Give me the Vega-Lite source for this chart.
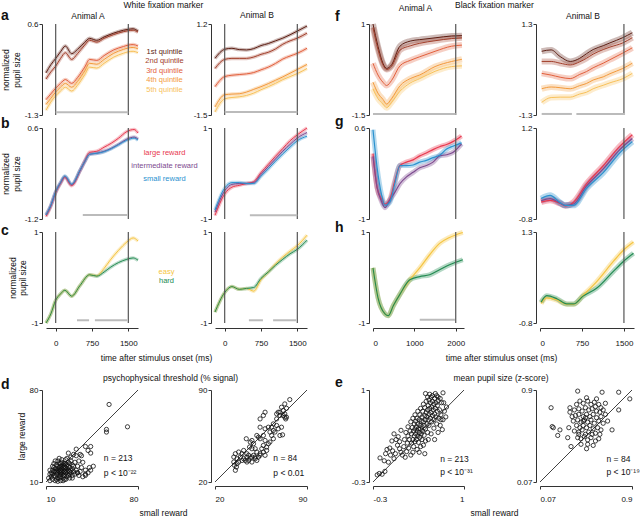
{
"$schema":"https://vega.github.io/schema/vega-lite/v6.json",
"padding":{"left":1,"top":0,"right":0,"bottom":0},
"background":"white",
"config":{"font":"Liberation Sans","view":{"stroke":null},
 "axis":{"grid":false,"domainColor":"#333","tickColor":"#333","labelColor":"#111","labelFontSize":8,"titleFontSize":8.5,"titleFontWeight":"normal","titleColor":"#111","tickSize":3,"labelPadding":1,"titlePadding":3,"offset":4,"domainWidth":1},
 "axisX":{"labelPadding":6,"titlePadding":5},
 "title":{"fontSize":8.5,"fontWeight":"normal","color":"#111","offset":2},
 "text":{"font":"Liberation Sans","color":"#111"}},
"datasets":{
"a1":[{"t":-200,"q1":-0.42,"q2":-0.55,"q3":-0.98,"q4":-1.08,"q5":-1.2},{"t":-100,"q1":-0.25,"q2":-0.4,"q3":-0.86,"q4":-0.95,"q5":-1.03},{"t":0,"q1":-0.12,"q2":-0.28,"q3":-0.74,"q4":-0.82,"q5":-0.9},{"t":100,"q1":0.02,"q2":-0.12,"q3":-0.64,"q4":-0.72,"q5":-0.8},{"t":200,"q1":0.14,"q2":0.0,"q3":-0.56,"q4":-0.64,"q5":-0.72},{"t":330,"q1":-0.02,"q2":-0.14,"q3":-0.64,"q4":-0.72,"q5":-0.8},{"t":450,"q1":0.07,"q2":-0.02,"q3":-0.52,"q4":-0.6,"q5":-0.68},{"t":600,"q1":0.22,"q2":0.16,"q3":-0.3,"q4":-0.38,"q5":-0.46},{"t":700,"q1":0.3,"q2":0.26,"q3":-0.14,"q4":-0.22,"q5":-0.3},{"t":850,"q1":0.26,"q2":0.22,"q3":-0.16,"q4":-0.24,"q5":-0.32},{"t":1000,"q1":0.33,"q2":0.3,"q3":-0.06,"q4":-0.14,"q5":-0.22},{"t":1200,"q1":0.41,"q2":0.38,"q3":0.06,"q4":-0.01,"q5":-0.09},{"t":1400,"q1":0.47,"q2":0.44,"q3":0.13,"q4":0.07,"q5":-0.01},{"t":1500,"q1":0.49,"q2":0.46,"q3":0.16,"q4":0.1,"q5":0.02},{"t":1600,"q1":0.5,"q2":0.47,"q3":0.17,"q4":0.11,"q5":0.03},{"t":1700,"q1":0.45,"q2":0.43,"q3":0.14,"q4":0.08,"q5":0.0}],
"a2":[{"t":-200,"q1":0.18,"q2":-0.12,"q3":-0.66,"q4":-1.26,"q5":-1.41},{"t":0,"q1":0.45,"q2":0.15,"q3":-0.36,"q4":-0.9,"q5":-1.02},{"t":150,"q1":0.48,"q2":0.18,"q3":-0.32,"q4":-0.88,"q5":-0.98},{"t":300,"q1":0.44,"q2":0.18,"q3":-0.3,"q4":-0.87,"q5":-0.96},{"t":450,"q1":0.43,"q2":0.18,"q3":-0.28,"q4":-0.82,"q5":-0.92},{"t":600,"q1":0.47,"q2":0.22,"q3":-0.24,"q4":-0.74,"q5":-0.85},{"t":750,"q1":0.56,"q2":0.3,"q3":-0.16,"q4":-0.66,"q5":-0.75},{"t":900,"q1":0.62,"q2":0.36,"q3":-0.08,"q4":-0.57,"q5":-0.66},{"t":1050,"q1":0.7,"q2":0.46,"q3":0.03,"q4":-0.47,"q5":-0.56},{"t":1200,"q1":0.78,"q2":0.6,"q3":0.16,"q4":-0.37,"q5":-0.45},{"t":1350,"q1":0.88,"q2":0.7,"q3":0.25,"q4":-0.26,"q5":-0.36},{"t":1500,"q1":0.99,"q2":0.78,"q3":0.33,"q4":-0.15,"q5":-0.27},{"t":1700,"q1":1.14,"q2":0.93,"q3":0.48,"q4":0.0,"q5":-0.12}],
"b1":[{"t":-200,"L":-1.15,"I":-1.12,"S":-1.12},{"t":-100,"L":-0.95,"I":-0.93,"S":-0.93},{"t":0,"L":-0.68,"I":-0.66,"S":-0.66},{"t":100,"L":-0.5,"I":-0.48,"S":-0.48},{"t":190,"L":-0.38,"I":-0.36,"S":-0.35},{"t":330,"L":-0.54,"I":-0.52,"S":-0.51},{"t":500,"L":-0.25,"I":-0.25,"S":-0.24},{"t":600,"L":-0.05,"I":-0.07,"S":-0.06},{"t":700,"L":0.12,"I":0.08,"S":0.08},{"t":850,"L":0.14,"I":0.1,"S":0.1},{"t":1000,"L":0.22,"I":0.14,"S":0.13},{"t":1150,"L":0.3,"I":0.2,"S":0.19},{"t":1300,"L":0.4,"I":0.28,"S":0.27},{"t":1470,"L":0.53,"I":0.38,"S":0.36},{"t":1620,"L":0.57,"I":0.42,"S":0.4},{"t":1700,"L":0.5,"I":0.38,"S":0.36}],
"b2":[{"t":-200,"L":-0.92,"I":-0.85,"S":-0.8},{"t":0,"L":-0.45,"I":-0.38,"S":-0.32},{"t":150,"L":-0.3,"I":-0.24,"S":-0.2},{"t":300,"L":-0.26,"I":-0.22,"S":-0.2},{"t":450,"L":-0.22,"I":-0.22,"S":-0.22},{"t":600,"L":-0.18,"I":-0.2,"S":-0.22},{"t":750,"L":0.02,"I":-0.02,"S":-0.06},{"t":900,"L":0.2,"I":0.15,"S":0.1},{"t":1050,"L":0.38,"I":0.32,"S":0.27},{"t":1200,"L":0.55,"I":0.49,"S":0.43},{"t":1350,"L":0.72,"I":0.64,"S":0.58},{"t":1500,"L":0.85,"I":0.78,"S":0.72},{"t":1700,"L":1.0,"I":0.9,"S":0.82}],
"c1":[{"t":-200,"E":-1.0,"H":-1.0},{"t":-100,"E":-0.8,"H":-0.8},{"t":0,"E":-0.5,"H":-0.5},{"t":100,"E":-0.36,"H":-0.36},{"t":190,"E":-0.28,"H":-0.28},{"t":330,"E":-0.41,"H":-0.41},{"t":500,"E":-0.18,"H":-0.18},{"t":700,"E":0.06,"H":0.06},{"t":850,"E":0.04,"H":0.03},{"t":1000,"E":0.2,"H":0.12},{"t":1125,"E":0.38,"H":0.22},{"t":1300,"E":0.6,"H":0.33},{"t":1470,"E":0.78,"H":0.4},{"t":1600,"E":0.87,"H":0.43},{"t":1700,"E":0.8,"H":0.38}],
"c2":[{"t":-200,"E":-0.76,"H":-0.76},{"t":0,"E":-0.33,"H":-0.33},{"t":150,"E":-0.2,"H":-0.2},{"t":300,"E":-0.26,"H":-0.26},{"t":450,"E":-0.24,"H":-0.24},{"t":600,"E":-0.3,"H":-0.22},{"t":750,"E":-0.05,"H":-0.02},{"t":900,"E":0.12,"H":0.12},{"t":1050,"E":0.3,"H":0.27},{"t":1200,"E":0.45,"H":0.4},{"t":1350,"E":0.58,"H":0.52},{"t":1500,"E":0.7,"H":0.62},{"t":1700,"E":0.93,"H":0.82}],
"f1":[{"t":0,"q1":1.0,"q2":0.9,"q3":-0.08,"q4":-0.6,"q5":-0.78},{"t":120,"q1":0.39,"q2":0.3,"q3":-0.4,"q4":-0.9,"q5":-1.05},{"t":240,"q1":-0.08,"q2":-0.12,"q3":-0.6,"q4":-1.07,"q5":-1.2},{"t":330,"q1":-0.22,"q2":-0.25,"q3":-0.69,"q4":-1.2,"q5":-1.3},{"t":450,"q1":-0.12,"q2":-0.16,"q3":-0.55,"q4":-1.05,"q5":-1.15},{"t":650,"q1":0.39,"q2":0.28,"q3":-0.15,"q4":-0.7,"q5":-0.85},{"t":900,"q1":0.53,"q2":0.4,"q3":0.0,"q4":-0.5,"q5":-0.62},{"t":1130,"q1":0.57,"q2":0.47,"q3":0.1,"q4":-0.4,"q5":-0.5},{"t":1500,"q1":0.62,"q2":0.54,"q3":0.25,"q4":-0.17,"q5":-0.3},{"t":1900,"q1":0.67,"q2":0.6,"q3":0.39,"q4":-0.03,"q5":-0.17},{"t":2150,"q1":0.68,"q2":0.62,"q3":0.42,"q4":0.03,"q5":-0.15}],
"f2":[{"t":30,"q1":0.52,"q2":0.23,"q3":-0.11,"q4":-0.55,"q5":-0.94},{"t":200,"q1":0.56,"q2":0.23,"q3":-0.16,"q4":-0.5,"q5":-0.8},{"t":360,"q1":0.37,"q2":0.18,"q3":-0.22,"q4":-0.52,"q5":-0.79},{"t":540,"q1":0.23,"q2":0.13,"q3":-0.26,"q4":-0.55,"q5":-0.79},{"t":710,"q1":0.32,"q2":0.22,"q3":-0.14,"q4":-0.46,"q5":-0.7},{"t":830,"q1":0.45,"q2":0.32,"q3":-0.06,"q4":-0.4,"q5":-0.65},{"t":950,"q1":0.57,"q2":0.44,"q3":0.05,"q4":-0.3,"q5":-0.55},{"t":1130,"q1":0.68,"q2":0.57,"q3":0.18,"q4":-0.21,"q5":-0.45},{"t":1250,"q1":0.76,"q2":0.64,"q3":0.28,"q4":-0.12,"q5":-0.38},{"t":1480,"q1":0.91,"q2":0.76,"q3":0.47,"q4":0.03,"q5":-0.26},{"t":1650,"q1":1.05,"q2":0.91,"q3":0.62,"q4":0.18,"q5":-0.11}],
"g1":[{"t":0,"L":0.15,"I":0.1,"S":0.57},{"t":100,"L":-0.45,"I":-0.45,"S":-0.1},{"t":200,"L":-0.64,"I":-0.68,"S":-0.55},{"t":290,"L":-0.74,"I":-0.8,"S":-0.76},{"t":410,"L":-0.65,"I":-0.66,"S":-0.7},{"t":520,"L":-0.35,"I":-0.54,"S":-0.4},{"t":650,"L":-0.06,"I":-0.38,"S":-0.06},{"t":810,"L":0.0,"I":-0.26,"S":-0.06},{"t":970,"L":0.04,"I":-0.18,"S":-0.05},{"t":1130,"L":0.11,"I":-0.1,"S":0.0},{"t":1290,"L":0.16,"I":-0.06,"S":0.03},{"t":1450,"L":0.22,"I":0.0,"S":0.08},{"t":1610,"L":0.27,"I":0.11,"S":0.12},{"t":1780,"L":0.31,"I":0.13,"S":0.23},{"t":1930,"L":0.36,"I":0.17,"S":0.28},{"t":2140,"L":0.46,"I":0.32,"S":0.34}],
"g2":[{"t":20,"L":-0.43,"I":-0.4,"S":-0.35},{"t":180,"L":-0.39,"I":-0.35,"S":-0.28},{"t":360,"L":-0.46,"I":-0.45,"S":-0.44},{"t":450,"L":-0.51,"I":-0.5,"S":-0.5},{"t":600,"L":-0.43,"I":-0.47,"S":-0.5},{"t":830,"L":-0.03,"I":-0.08,"S":-0.13},{"t":1130,"L":0.37,"I":0.3,"S":0.22},{"t":1430,"L":0.8,"I":0.73,"S":0.66},{"t":1650,"L":1.05,"I":0.97,"S":0.9}],
"h1":[{"t":0,"E":0.21,"H":0.21},{"t":120,"E":-0.44,"H":-0.44},{"t":290,"E":-0.8,"H":-0.8},{"t":370,"E":-0.84,"H":-0.84},{"t":490,"E":-0.62,"H":-0.62},{"t":650,"E":-0.37,"H":-0.37},{"t":890,"E":-0.05,"H":-0.05},{"t":1130,"E":0.21,"H":0.02},{"t":1370,"E":0.5,"H":0.06},{"t":1610,"E":0.75,"H":0.17},{"t":1850,"E":0.88,"H":0.28},{"t":2170,"E":0.99,"H":0.39}],
"h2":[{"t":20,"E":-0.35,"H":-0.32},{"t":120,"E":-0.22,"H":-0.17},{"t":300,"E":-0.27,"H":-0.24},{"t":480,"E":-0.37,"H":-0.36},{"t":600,"E":-0.37,"H":-0.36},{"t":770,"E":-0.16,"H":-0.18},{"t":1010,"E":0.15,"H":0.0},{"t":1310,"E":0.62,"H":0.39},{"t":1490,"E":0.88,"H":0.62},{"t":1670,"E":1.07,"H":0.81}],
"d1":[{"x":14,"y":17},{"x":15,"y":19},{"x":16,"y":15},{"x":16,"y":21},{"x":17,"y":18},{"x":17,"y":14},{"x":18,"y":20},{"x":18,"y":16},{"x":18,"y":23},{"x":19,"y":17},{"x":19,"y":19},{"x":19,"y":13},{"x":20,"y":21},{"x":20,"y":18},{"x":20,"y":15},{"x":20,"y":24},{"x":21,"y":19},{"x":21,"y":17},{"x":21,"y":22},{"x":21,"y":14},{"x":22,"y":20},{"x":22,"y":18},{"x":22,"y":16},{"x":22,"y":25},{"x":23,"y":19},{"x":23,"y":21},{"x":23,"y":17},{"x":23,"y":13},{"x":24,"y":20},{"x":24,"y":18},{"x":24,"y":22},{"x":24,"y":15},{"x":25,"y":19},{"x":25,"y":21},{"x":25,"y":17},{"x":25,"y":24},{"x":26,"y":20},{"x":26,"y":18},{"x":26,"y":16},{"x":27,"y":19},{"x":27,"y":22},{"x":27,"y":15},{"x":28,"y":18},{"x":28,"y":21},{"x":28,"y":16},{"x":29,"y":19},{"x":29,"y":17},{"x":30,"y":20},{"x":30,"y":15},{"x":31,"y":18},{"x":32,"y":16},{"x":33,"y":19},{"x":34,"y":17},{"x":35,"y":15},{"x":36,"y":18},{"x":38,"y":14},{"x":40,"y":16},{"x":42,"y":17},{"x":44,"y":19},{"x":12,"y":13},{"x":13,"y":16},{"x":13,"y":11},{"x":15,"y":12},{"x":17,"y":11},{"x":19,"y":10.5},{"x":21,"y":11},{"x":23,"y":11},{"x":25,"y":12},{"x":16,"y":24},{"x":19,"y":26},{"x":22,"y":27},{"x":25,"y":27},{"x":27,"y":25},{"x":30,"y":23},{"x":29,"y":26},{"x":18,"y":18},{"x":20,"y":20},{"x":22,"y":22},{"x":24,"y":24},{"x":21,"y":16},{"x":23,"y":15},{"x":26,"y":14},{"x":28,"y":13},{"x":30,"y":13},{"x":24,"y":12},{"x":15,"y":22},{"x":17,"y":26},{"x":20,"y":28},{"x":26,"y":28},{"x":29,"y":29},{"x":31,"y":31},{"x":33,"y":30},{"x":36,"y":31},{"x":37,"y":30},{"x":44,"y":37},{"x":42,"y":34},{"x":44,"y":32},{"x":40,"y":37},{"x":46,"y":22},{"x":43,"y":21},{"x":40,"y":19},{"x":37,"y":21},{"x":40,"y":15},{"x":34,"y":17},{"x":56,"y":50},{"x":56,"y":48},{"x":58,"y":69},{"x":72,"y":52},{"x":35,"y":26},{"x":38,"y":25},{"x":27,"y":32},{"x":33,"y":35},{"x":14,"y":14},{"x":16,"y":18},{"x":18,"y":12},{"x":20,"y":13},{"x":26,"y":23},{"x":28,"y":24},{"x":31,"y":22},{"x":32,"y":25},{"x":34,"y":22},{"x":15,"y":16},{"x":17,"y":20},{"x":19,"y":22},{"x":21,"y":24},{"x":23,"y":23},{"x":13,"y":19}],
"d2":[{"x":76.9,"y":82.7},{"x":73.1,"y":79.4},{"x":74.4,"y":76.1},{"x":70.6,"y":76.9},{"x":68.1,"y":73.1},{"x":69.4,"y":70.6},{"x":71.9,"y":70.6},{"x":73.1,"y":69.3},{"x":74.4,"y":69.3},{"x":73.8,"y":68.0},{"x":58.1,"y":73.1},{"x":56.8,"y":70.6},{"x":54.3,"y":68.0},{"x":66.9,"y":68.0},{"x":64.4,"y":64.2},{"x":70.6,"y":61.7},{"x":66.9,"y":63.0},{"x":63.1,"y":61.7},{"x":54.3,"y":61.7},{"x":58.1,"y":60.5},{"x":60.6,"y":61.7},{"x":51.8,"y":55.4},{"x":53.1,"y":54.1},{"x":56.8,"y":55.4},{"x":54.3,"y":52.9},{"x":58.1,"y":51.6},{"x":63.1,"y":55.4},{"x":64.4,"y":52.9},{"x":69.4,"y":55.4},{"x":71.4,"y":55.9},{"x":60.6,"y":49.1},{"x":59.3,"y":46.6},{"x":56.8,"y":47.8},{"x":43.8,"y":52.9},{"x":46.8,"y":50.4},{"x":48.1,"y":51.6},{"x":49.3,"y":49.1},{"x":46.3,"y":46.6},{"x":48.1,"y":45.3},{"x":50.6,"y":45.3},{"x":41.8,"y":44.0},{"x":40.6,"y":41.5},{"x":44.3,"y":41.5},{"x":45.6,"y":40.3},{"x":49.3,"y":40.3},{"x":51.8,"y":42.8},{"x":53.1,"y":39.0},{"x":54.3,"y":41.5},{"x":56.8,"y":42.8},{"x":58.1,"y":40.3},{"x":38.0,"y":42.8},{"x":39.3,"y":39.0},{"x":35.5,"y":41.5},{"x":34.3,"y":39.0},{"x":36.8,"y":37.7},{"x":41.8,"y":37.7},{"x":44.3,"y":39.0},{"x":46.8,"y":38.2},{"x":50.6,"y":37.7},{"x":34.3,"y":35.2},{"x":34.8,"y":32.7},{"x":36.3,"y":31.4},{"x":35.5,"y":28.9},{"x":36.8,"y":34.0},{"x":40.6,"y":36.4},{"x":43.1,"y":36.4},{"x":38.0,"y":35.2},{"x":44.3,"y":35.2},{"x":48.1,"y":39.0},{"x":54.3,"y":40.3},{"x":55.6,"y":45.3},{"x":59.3,"y":44.0},{"x":61.8,"y":50.4},{"x":65.6,"y":58.0},{"x":68.1,"y":60.5},{"x":64.4,"y":59.2},{"x":61.8,"y":58.0},{"x":66.9,"y":71.8},{"x":69.4,"y":73.1},{"x":73.1,"y":71.8},{"x":71.9,"y":74.4},{"x":50.6,"y":39.0},{"x":51.8,"y":36.4},{"x":48.1,"y":35.2},{"x":45.6,"y":36.4}],
"e1":[{"x":-0.21,"y":-0.18},{"x":-0.17,"y":-0.19},{"x":-0.13,"y":-0.15},{"x":-0.24,"y":-0.2},{"x":-0.2,"y":0.04},{"x":-0.14,"y":0.0},{"x":-0.08,"y":-0.02},{"x":-0.12,"y":0.1},{"x":-0.05,"y":0.08},{"x":-0.02,"y":0.14},{"x":-0.06,"y":0.18},{"x":0.0,"y":0.03},{"x":0.02,"y":0.1},{"x":-0.1,"y":0.16},{"x":0.05,"y":0.22},{"x":0.03,"y":0.3},{"x":-0.03,"y":0.28},{"x":0.08,"y":0.17},{"x":0.1,"y":0.12},{"x":0.12,"y":0.08},{"x":0.06,"y":0.34},{"x":0.0,"y":0.38},{"x":0.1,"y":0.43},{"x":0.08,"y":0.27},{"x":0.14,"y":0.2},{"x":0.16,"y":0.05},{"x":0.18,"y":0.13},{"x":0.15,"y":0.3},{"x":0.17,"y":0.4},{"x":0.19,"y":0.25},{"x":0.2,"y":0.35},{"x":0.2,"y":0.48},{"x":0.21,"y":0.18},{"x":0.22,"y":0.3},{"x":0.23,"y":0.42},{"x":0.24,"y":0.55},{"x":0.25,"y":0.25},{"x":0.25,"y":0.38},{"x":0.26,"y":0.47},{"x":0.27,"y":0.3},{"x":0.27,"y":0.6},{"x":0.28,"y":0.2},{"x":0.28,"y":0.42},{"x":0.29,"y":0.35},{"x":0.29,"y":0.52},{"x":0.3,"y":0.27},{"x":0.3,"y":0.45},{"x":0.3,"y":0.65},{"x":0.31,"y":0.38},{"x":0.31,"y":0.56},{"x":0.32,"y":0.3},{"x":0.32,"y":0.48},{"x":0.33,"y":0.42},{"x":0.33,"y":0.6},{"x":0.34,"y":0.35},{"x":0.34,"y":0.52},{"x":0.34,"y":0.7},{"x":0.35,"y":0.26},{"x":0.35,"y":0.45},{"x":0.36,"y":0.58},{"x":0.36,"y":0.4},{"x":0.37,"y":0.33},{"x":0.37,"y":0.5},{"x":0.37,"y":0.65},{"x":0.38,"y":0.45},{"x":0.38,"y":0.74},{"x":0.39,"y":0.38},{"x":0.39,"y":0.56},{"x":0.4,"y":0.62},{"x":0.4,"y":0.48},{"x":0.4,"y":0.3},{"x":0.41,"y":0.7},{"x":0.41,"y":0.42},{"x":0.42,"y":0.55},{"x":0.42,"y":0.8},{"x":0.43,"y":0.5},{"x":0.43,"y":0.36},{"x":0.44,"y":0.64},{"x":0.44,"y":0.75},{"x":0.45,"y":0.58},{"x":0.45,"y":0.45},{"x":0.46,"y":0.68},{"x":0.46,"y":0.84},{"x":0.47,"y":0.52},{"x":0.47,"y":0.62},{"x":0.48,"y":0.72},{"x":0.48,"y":0.4},{"x":0.49,"y":0.78},{"x":0.49,"y":0.58},{"x":0.5,"y":0.66},{"x":0.5,"y":0.86},{"x":0.5,"y":0.5},{"x":0.51,"y":0.74},{"x":0.52,"y":0.6},{"x":0.52,"y":0.82},{"x":0.53,"y":0.68},{"x":0.53,"y":0.9},{"x":0.54,"y":0.55},{"x":0.54,"y":0.76},{"x":0.55,"y":0.64},{"x":0.55,"y":0.84},{"x":0.56,"y":0.72},{"x":0.57,"y":0.58},{"x":0.57,"y":0.8},{"x":0.58,"y":0.66},{"x":0.58,"y":0.88},{"x":0.59,"y":0.74},{"x":0.6,"y":0.62},{"x":0.6,"y":0.82},{"x":0.61,"y":0.52},{"x":0.62,"y":0.7},{"x":0.62,"y":0.78},{"x":0.63,"y":0.9},{"x":0.64,"y":0.6},{"x":0.65,"y":0.72},{"x":0.66,"y":0.5},{"x":0.67,"y":0.65},{"x":0.68,"y":0.82},{"x":0.7,"y":0.58},{"x":0.72,"y":0.7},{"x":0.69,"y":0.44},{"x":0.63,"y":0.4},{"x":0.57,"y":0.46},{"x":0.58,"y":0.3},{"x":0.53,"y":0.38},{"x":0.49,"y":0.3},{"x":0.45,"y":0.28},{"x":0.42,"y":0.22},{"x":0.38,"y":0.2},{"x":0.33,"y":0.16},{"x":0.27,"y":0.12},{"x":0.24,"y":0.08},{"x":0.44,"y":0.1},{"x":0.36,"y":0.12},{"x":0.55,"y":0.92},{"x":0.61,"y":0.92},{"x":0.7,"y":0.96},{"x":0.63,"y":0.85},{"x":0.59,"y":0.95},{"x":0.45,"y":0.95},{"x":0.48,"y":0.9},{"x":0.51,"y":0.94},{"x":0.66,"y":0.88},{"x":0.71,"y":0.82},{"x":0.74,"y":0.62},{"x":0.75,"y":0.76},{"x":0.67,"y":0.58}],
"e2":[{"x":0.41,"y":0.89},{"x":0.63,"y":0.88},{"x":0.78,"y":0.88},{"x":0.88,"y":0.82},{"x":0.17,"y":0.74},{"x":0.34,"y":0.74},{"x":0.34,"y":0.7},{"x":0.18,"y":0.57},{"x":0.19,"y":0.56},{"x":0.25,"y":0.54},{"x":0.23,"y":0.49},{"x":0.33,"y":0.56},{"x":0.32,"y":0.47},{"x":0.35,"y":0.39},{"x":0.49,"y":0.37},{"x":0.72,"y":0.54},{"x":0.78,"y":0.72},{"x":0.66,"y":0.78},{"x":0.58,"y":0.82},{"x":0.49,"y":0.83},{"x":0.58,"y":0.71},{"x":0.4,"y":0.77},{"x":0.43,"y":0.8},{"x":0.46,"y":0.78},{"x":0.5,"y":0.8},{"x":0.53,"y":0.77},{"x":0.56,"y":0.79},{"x":0.6,"y":0.77},{"x":0.62,"y":0.74},{"x":0.38,"y":0.72},{"x":0.42,"y":0.73},{"x":0.45,"y":0.71},{"x":0.48,"y":0.74},{"x":0.51,"y":0.72},{"x":0.54,"y":0.73},{"x":0.57,"y":0.75},{"x":0.61,"y":0.7},{"x":0.64,"y":0.72},{"x":0.39,"y":0.67},{"x":0.42,"y":0.68},{"x":0.46,"y":0.66},{"x":0.49,"y":0.68},{"x":0.52,"y":0.66},{"x":0.55,"y":0.68},{"x":0.58,"y":0.65},{"x":0.62,"y":0.66},{"x":0.66,"y":0.68},{"x":0.37,"y":0.62},{"x":0.41,"y":0.63},{"x":0.44,"y":0.61},{"x":0.47,"y":0.63},{"x":0.5,"y":0.61},{"x":0.53,"y":0.63},{"x":0.56,"y":0.6},{"x":0.6,"y":0.62},{"x":0.64,"y":0.6},{"x":0.4,"y":0.58},{"x":0.43,"y":0.56},{"x":0.46,"y":0.58},{"x":0.49,"y":0.56},{"x":0.52,"y":0.58},{"x":0.55,"y":0.55},{"x":0.59,"y":0.56},{"x":0.62,"y":0.54},{"x":0.38,"y":0.53},{"x":0.42,"y":0.52},{"x":0.45,"y":0.54},{"x":0.48,"y":0.5},{"x":0.51,"y":0.52},{"x":0.54,"y":0.5},{"x":0.57,"y":0.51},{"x":0.61,"y":0.5},{"x":0.41,"y":0.47},{"x":0.44,"y":0.46},{"x":0.47,"y":0.48},{"x":0.5,"y":0.45},{"x":0.53,"y":0.47},{"x":0.57,"y":0.44},{"x":0.6,"y":0.46},{"x":0.44,"y":0.41},{"x":0.5,"y":0.41},{"x":0.55,"y":0.4},{"x":0.46,"y":0.62},{"x":0.48,"y":0.65},{"x":0.68,"y":0.62},{"x":0.36,"y":0.66},{"x":0.42,"y":0.5}]
},
"columns":8,"spacing":{"row":13,"column":0},"bounds":"flush",
"resolve":{"scale":{"color":"independent"}},
"concat":[
 {"width":45,"height":91,"data":{"values":[]},"mark":"point","title":{"text":"a","anchor":"start","frame":"group","fontSize":14,"fontWeight":"bold","offset":0,"dy":-1}},
 {"width":92,"height":91,"title":{"text":"Animal A","frame":"group","dx":-4,"offset":0},"data":{"name":"a1"},"transform":[{"fold":["q1","q2","q3","q4","q5"],"as":["g","v"]}],
  "layer":[
   {"mark":{"type":"line","strokeWidth":3.5,"opacity":0.3,"interpolate":"monotone"},"encoding":{"x":{"field":"t","type":"quantitative","scale":{"domain":[-200,1700],"nice":false,"zero":false},"axis":null},"y":{"field":"v","type":"quantitative","scale":{"domain":[-1.3,0.6],"nice":false,"zero":false},"axis":{"values":[-1.3,0.6],"title":["normalized","pupil size"],"labelExpr":"''+datum.value"}},"color":{"field":"g","type":"nominal","scale":{"domain":["q1","q2","q3","q4","q5"],"range":["#5e1f14","#a2402c","#e2603c","#f39a3c","#f8c15a"]},"legend":null}}},
   {"mark":{"type":"line","strokeWidth":1,"interpolate":"monotone"},"encoding":{"x":{"field":"t","type":"quantitative","axis":null},"y":{"field":"v","type":"quantitative"},"color":{"field":"g","type":"nominal","scale":{"domain":["q1","q2","q3","q4","q5"],"range":["#5e1f14","#a2402c","#e2603c","#f39a3c","#f8c15a"]},"legend":null}}},
   {"data":{"values":[{"t":0},{"t":1500}]},"mark":{"type":"rule","color":"#555","strokeWidth":1.2},"encoding":{"x":{"field":"t","type":"quantitative","axis":null}}},
   {"data":{"values":[{"s":0,"e":1500}]},"mark":{"type":"rule","color":"#bbb","strokeWidth":2},"encoding":{"x":{"field":"s","type":"quantitative","axis":null},"x2":{"field":"e"},"y":{"datum":-1.24,"type":"quantitative"}}}
  ]},
 {"width":77,"height":91,"title":{"text":"White fixation marker","frame":"group","dx":-13,"offset":0,"dy":-15},"data":{"values":[{"g":"q1","k":1,"label":"1st quintile"},{"g":"q2","k":2,"label":"2nd quintile"},{"g":"q3","k":3,"label":"3rd quintile"},{"g":"q4","k":4,"label":"4th quintile"},{"g":"q5","k":5,"label":"5th quintile"}]},
  "mark":{"type":"text","fontSize":7.5,"dx":-12},
  "encoding":{"y":{"field":"k","type":"quantitative","scale":{"domain":[-1.92,7.66],"reverse":true,"nice":false,"zero":false},"axis":null},"text":{"field":"label"},"color":{"field":"g","type":"nominal","scale":{"domain":["q1","q2","q3","q4","q5"],"range":["#5e1f14","#a2402c","#e2603c","#f39a3c","#f8c15a"]},"legend":null}}},
 {"width":92,"height":91,"title":{"text":"Animal B","frame":"group","dx":-4,"offset":0},"data":{"name":"a2"},"transform":[{"fold":["q1","q2","q3","q4","q5"],"as":["g","v"]}],
  "layer":[
   {"mark":{"type":"line","strokeWidth":3.5,"opacity":0.3,"interpolate":"monotone"},"encoding":{"x":{"field":"t","type":"quantitative","scale":{"domain":[-200,1700],"nice":false,"zero":false},"axis":null},"y":{"field":"v","type":"quantitative","scale":{"domain":[-1.5,1.2],"nice":false,"zero":false},"axis":{"values":[-1.5,1.2],"title":null,"labelExpr":"''+datum.value"}},"color":{"field":"g","type":"nominal","scale":{"domain":["q1","q2","q3","q4","q5"],"range":["#5e1f14","#a2402c","#e2603c","#f39a3c","#f8c15a"]},"legend":null}}},
   {"mark":{"type":"line","strokeWidth":1,"interpolate":"monotone"},"encoding":{"x":{"field":"t","type":"quantitative","axis":null},"y":{"field":"v","type":"quantitative"},"color":{"field":"g","type":"nominal","scale":{"domain":["q1","q2","q3","q4","q5"],"range":["#5e1f14","#a2402c","#e2603c","#f39a3c","#f8c15a"]},"legend":null}}},
   {"data":{"values":[{"t":0},{"t":1500}]},"mark":{"type":"rule","color":"#555","strokeWidth":1.2},"encoding":{"x":{"field":"t","type":"quantitative","axis":null}}},
   {"data":{"values":[{"s":0,"e":1500}]},"mark":{"type":"rule","color":"#bbb","strokeWidth":2},"encoding":{"x":{"field":"s","type":"quantitative","axis":null},"x2":{"field":"e"},"y":{"datum":-1.41,"type":"quantitative"}}}
  ]},
 {"width":66,"height":91,"data":{"values":[]},"mark":"point","title":{"text":"f","anchor":"start","frame":"group","fontSize":14,"fontWeight":"bold","offset":0,"dx":28,"dy":0}},
 {"width":91,"height":91,"title":{"text":"Animal A","frame":"group","dx":-3,"offset":0},"data":{"name":"f1"},"transform":[{"fold":["q1","q2","q3","q4","q5"],"as":["g","v"]}],
  "layer":[
   {"mark":{"type":"line","strokeWidth":6,"opacity":0.3,"interpolate":"monotone"},"encoding":{"x":{"field":"t","type":"quantitative","scale":{"domain":[0,2200],"nice":false,"zero":false},"axis":null},"y":{"field":"v","type":"quantitative","scale":{"domain":[-1.5,1],"nice":false,"zero":false},"axis":{"values":[-1.5,1],"title":null,"labelExpr":"''+datum.value"}},"color":{"field":"g","type":"nominal","scale":{"domain":["q1","q2","q3","q4","q5"],"range":["#5e1f14","#a2402c","#e2603c","#f39a3c","#f8c15a"]},"legend":null}}},
   {"mark":{"type":"line","strokeWidth":1,"interpolate":"monotone"},"encoding":{"x":{"field":"t","type":"quantitative","axis":null},"y":{"field":"v","type":"quantitative"},"color":{"field":"g","type":"nominal","scale":{"domain":["q1","q2","q3","q4","q5"],"range":["#5e1f14","#a2402c","#e2603c","#f39a3c","#f8c15a"]},"legend":null}}},
   {"data":{"values":[{"t":2000}]},"mark":{"type":"rule","color":"#555","strokeWidth":1.2},"encoding":{"x":{"field":"t","type":"quantitative","axis":null}}},
   {"data":{"values":[{"s":0,"e":2000}]},"mark":{"type":"rule","color":"#bbb","strokeWidth":2},"encoding":{"x":{"field":"s","type":"quantitative","axis":null},"x2":{"field":"e"},"y":{"datum":-1.47,"type":"quantitative"}}}
  ]},
 {"width":76,"height":91,"data":{"values":[]},"mark":"point","title":{"text":"Black fixation marker","anchor":"start","frame":"group","dx":-9,"offset":0,"dy":-15}},
 {"width":94,"height":91,"title":{"text":"Animal B","frame":"group","dx":-4,"offset":0},"data":{"name":"f2"},"transform":[{"fold":["q1","q2","q3","q4","q5"],"as":["g","v"]}],
  "layer":[
   {"mark":{"type":"line","strokeWidth":6,"opacity":0.3,"interpolate":"monotone"},"encoding":{"x":{"field":"t","type":"quantitative","scale":{"domain":[0,1680],"nice":false,"zero":false},"axis":null},"y":{"field":"v","type":"quantitative","scale":{"domain":[-1.3,1.3],"nice":false,"zero":false},"axis":{"values":[-1.3,1.3],"title":null,"labelExpr":"''+datum.value"}},"color":{"field":"g","type":"nominal","scale":{"domain":["q1","q2","q3","q4","q5"],"range":["#5e1f14","#a2402c","#e2603c","#f39a3c","#f8c15a"]},"legend":null}}},
   {"mark":{"type":"line","strokeWidth":1,"interpolate":"monotone"},"encoding":{"x":{"field":"t","type":"quantitative","axis":null},"y":{"field":"v","type":"quantitative"},"color":{"field":"g","type":"nominal","scale":{"domain":["q1","q2","q3","q4","q5"],"range":["#5e1f14","#a2402c","#e2603c","#f39a3c","#f8c15a"]},"legend":null}}},
   {"data":{"values":[{"t":1500}]},"mark":{"type":"rule","color":"#555","strokeWidth":1.2},"encoding":{"x":{"field":"t","type":"quantitative","axis":null}}},
   {"data":{"values":[{"s":30,"e":570},{"s":650,"e":1520}]},"mark":{"type":"rule","color":"#bbb","strokeWidth":2},"encoding":{"x":{"field":"s","type":"quantitative","axis":null},"x2":{"field":"e"},"y":{"datum":-1.27,"type":"quantitative"}}}
  ]},

 {"width":45,"height":91,"data":{"values":[]},"mark":"point","title":{"text":"b","anchor":"start","frame":"group","fontSize":14,"fontWeight":"bold","offset":0,"dy":3}},
 {"width":92,"height":91,"data":{"name":"b1"},"transform":[{"fold":["L","I","S"],"as":["g","v"]}],
  "layer":[
   {"mark":{"type":"line","strokeWidth":3.5,"opacity":0.3,"interpolate":"monotone"},"encoding":{"x":{"field":"t","type":"quantitative","scale":{"domain":[-200,1700],"nice":false,"zero":false},"axis":null},"y":{"field":"v","type":"quantitative","scale":{"domain":[-1.2,0.6],"nice":false,"zero":false},"axis":{"values":[-1.2,0.6],"title":["normalized","pupil size"],"labelExpr":"''+datum.value"}},"color":{"field":"g","type":"nominal","scale":{"domain":["L","I","S"],"range":["#e8394f","#7d4a8f","#2b92cf"]},"legend":null}}},
   {"mark":{"type":"line","strokeWidth":1,"interpolate":"monotone"},"encoding":{"x":{"field":"t","type":"quantitative","axis":null},"y":{"field":"v","type":"quantitative"},"color":{"field":"g","type":"nominal","scale":{"domain":["L","I","S"],"range":["#e8394f","#7d4a8f","#2b92cf"]},"legend":null}}},
   {"data":{"values":[{"t":0},{"t":1500}]},"mark":{"type":"rule","color":"#555","strokeWidth":1.2},"encoding":{"x":{"field":"t","type":"quantitative","axis":null}}},
   {"data":{"values":[{"s":560,"e":1480}]},"mark":{"type":"rule","color":"#bbb","strokeWidth":2},"encoding":{"x":{"field":"s","type":"quantitative","axis":null},"x2":{"field":"e"},"y":{"datum":-1.12,"type":"quantitative"}}}
  ]},
 {"width":77,"height":91,"data":{"values":[{"g":"L","k":1,"label":"large reward"},{"g":"I","k":2,"label":"intermediate reward"},{"g":"S","k":3,"label":"small reward"}]},
  "mark":{"type":"text","fontSize":7.5,"dx":-12},
  "encoding":{"y":{"field":"k","type":"quantitative","scale":{"domain":[-0.92,6.08],"reverse":true,"nice":false,"zero":false},"axis":null},"text":{"field":"label"},"color":{"field":"g","type":"nominal","scale":{"domain":["L","I","S"],"range":["#e8394f","#7d4a8f","#2b92cf"]},"legend":null}}},
 {"width":92,"height":91,"data":{"name":"b2"},"transform":[{"fold":["L","I","S"],"as":["g","v"]}],
  "layer":[
   {"mark":{"type":"line","strokeWidth":3.5,"opacity":0.3,"interpolate":"monotone"},"encoding":{"x":{"field":"t","type":"quantitative","scale":{"domain":[-200,1700],"nice":false,"zero":false},"axis":null},"y":{"field":"v","type":"quantitative","scale":{"domain":[-1,1],"nice":false,"zero":false},"axis":{"values":[-1,1],"title":null,"labelExpr":"''+datum.value"}},"color":{"field":"g","type":"nominal","scale":{"domain":["L","I","S"],"range":["#e8394f","#7d4a8f","#2b92cf"]},"legend":null}}},
   {"mark":{"type":"line","strokeWidth":1,"interpolate":"monotone"},"encoding":{"x":{"field":"t","type":"quantitative","axis":null},"y":{"field":"v","type":"quantitative"},"color":{"field":"g","type":"nominal","scale":{"domain":["L","I","S"],"range":["#e8394f","#7d4a8f","#2b92cf"]},"legend":null}}},
   {"data":{"values":[{"t":0},{"t":1500}]},"mark":{"type":"rule","color":"#555","strokeWidth":1.2},"encoding":{"x":{"field":"t","type":"quantitative","axis":null}}},
   {"data":{"values":[{"s":520,"e":1500}]},"mark":{"type":"rule","color":"#bbb","strokeWidth":2},"encoding":{"x":{"field":"s","type":"quantitative","axis":null},"x2":{"field":"e"},"y":{"datum":-0.92,"type":"quantitative"}}}
  ]},
 {"width":66,"height":91,"data":{"values":[]},"mark":"point","title":{"text":"g","anchor":"start","frame":"group","fontSize":14,"fontWeight":"bold","offset":0,"dx":28,"dy":1}},
 {"width":91,"height":91,"data":{"name":"g1"},"transform":[{"fold":["L","I","S"],"as":["g","v"]}],
  "layer":[
   {"mark":{"type":"line","strokeWidth":5,"opacity":0.35,"interpolate":"monotone"},"encoding":{"x":{"field":"t","type":"quantitative","scale":{"domain":[0,2200],"nice":false,"zero":false},"axis":null},"y":{"field":"v","type":"quantitative","scale":{"domain":[-1,0.6],"nice":false,"zero":false},"axis":{"values":[-1,0.6],"title":null,"labelExpr":"''+datum.value"}},"color":{"field":"g","type":"nominal","scale":{"domain":["L","I","S"],"range":["#e8394f","#7d4a8f","#2b92cf"]},"legend":null}}},
   {"mark":{"type":"line","strokeWidth":1.2,"interpolate":"monotone"},"encoding":{"x":{"field":"t","type":"quantitative","axis":null},"y":{"field":"v","type":"quantitative"},"color":{"field":"g","type":"nominal","scale":{"domain":["L","I","S"],"range":["#e8394f","#7d4a8f","#2b92cf"]},"legend":null}}},
   {"data":{"values":[{"t":2000}]},"mark":{"type":"rule","color":"#555","strokeWidth":1.2},"encoding":{"x":{"field":"t","type":"quantitative","axis":null}}}
  ]},
 {"width":76,"height":91,"data":{"values":[]},"mark":"point"},
 {"width":94,"height":91,"data":{"name":"g2"},"transform":[{"fold":["L","I","S"],"as":["g","v"]}],
  "layer":[
   {"mark":{"type":"line","strokeWidth":6,"opacity":0.35,"interpolate":"monotone"},"encoding":{"x":{"field":"t","type":"quantitative","scale":{"domain":[0,1680],"nice":false,"zero":false},"axis":null},"y":{"field":"v","type":"quantitative","scale":{"domain":[-0.8,1.2],"nice":false,"zero":false},"axis":{"values":[-0.8,1.2],"title":null,"labelExpr":"''+datum.value"}},"color":{"field":"g","type":"nominal","scale":{"domain":["L","I","S"],"range":["#e8394f","#7d4a8f","#2b92cf"]},"legend":null}}},
   {"mark":{"type":"line","strokeWidth":1.2,"interpolate":"monotone"},"encoding":{"x":{"field":"t","type":"quantitative","axis":null},"y":{"field":"v","type":"quantitative"},"color":{"field":"g","type":"nominal","scale":{"domain":["L","I","S"],"range":["#e8394f","#7d4a8f","#2b92cf"]},"legend":null}}},
   {"data":{"values":[{"t":1500}]},"mark":{"type":"rule","color":"#555","strokeWidth":1.2},"encoding":{"x":{"field":"t","type":"quantitative","axis":null}}}
  ]},

 {"width":45,"height":91,"data":{"values":[]},"mark":"point","title":{"text":"c","anchor":"start","frame":"group","fontSize":14,"fontWeight":"bold","offset":0,"dy":6}},
 {"width":92,"height":91,"data":{"name":"c1"},"transform":[{"fold":["E","H"],"as":["g","v"]}],
  "layer":[
   {"mark":{"type":"line","strokeWidth":3.5,"opacity":0.3,"interpolate":"monotone"},"encoding":{"x":{"field":"t","type":"quantitative","scale":{"domain":[-200,1700],"nice":false,"zero":false},"axis":{"values":[0,750,1500],"title":"time after stimulus onset (ms)","titleX":110,"offset":5,"labelPadding":8,"titlePadding":6,"labelExpr":"''+datum.value"}},"y":{"field":"v","type":"quantitative","scale":{"domain":[-1,1],"nice":false,"zero":false},"axis":{"values":[-1,1],"title":["normalized","pupil size"],"labelExpr":"''+datum.value"}},"color":{"field":"g","type":"nominal","scale":{"domain":["E","H"],"range":["#f5c542","#238b52"]},"legend":null}}},
   {"mark":{"type":"line","strokeWidth":1,"interpolate":"monotone"},"encoding":{"x":{"field":"t","type":"quantitative"},"y":{"field":"v","type":"quantitative"},"color":{"field":"g","type":"nominal","scale":{"domain":["E","H"],"range":["#f5c542","#238b52"]},"legend":null}}},
   {"data":{"values":[{"t":0},{"t":1500}]},"mark":{"type":"rule","color":"#555","strokeWidth":1.2},"encoding":{"x":{"field":"t","type":"quantitative"}}},
   {"data":{"values":[{"s":440,"e":690},{"s":810,"e":1480}]},"mark":{"type":"rule","color":"#bbb","strokeWidth":2},"encoding":{"x":{"field":"s","type":"quantitative"},"x2":{"field":"e"},"y":{"datum":-0.94,"type":"quantitative"}}}
  ]},
 {"width":77,"height":91,"data":{"values":[{"g":"E","k":1,"label":"easy"},{"g":"H","k":2,"label":"hard"}]},
  "mark":{"type":"text","fontSize":7.5,"dx":-10},
  "encoding":{"y":{"field":"k","type":"quantitative","scale":{"domain":[-3.48,6.64],"reverse":true,"nice":false,"zero":false},"axis":null},"text":{"field":"label"},"color":{"field":"g","type":"nominal","scale":{"domain":["E","H"],"range":["#f5c542","#238b52"]},"legend":null}}},
 {"width":92,"height":91,"data":{"name":"c2"},"transform":[{"fold":["E","H"],"as":["g","v"]}],
  "layer":[
   {"mark":{"type":"line","strokeWidth":3.5,"opacity":0.3,"interpolate":"monotone"},"encoding":{"x":{"field":"t","type":"quantitative","scale":{"domain":[-200,1700],"nice":false,"zero":false},"axis":{"values":[0,750,1500],"title":null,"offset":5,"labelPadding":8,"labelExpr":"''+datum.value"}},"y":{"field":"v","type":"quantitative","scale":{"domain":[-1,1],"nice":false,"zero":false},"axis":{"values":[-1,1],"title":null,"labelExpr":"''+datum.value"}},"color":{"field":"g","type":"nominal","scale":{"domain":["E","H"],"range":["#f5c542","#238b52"]},"legend":null}}},
   {"mark":{"type":"line","strokeWidth":1,"interpolate":"monotone"},"encoding":{"x":{"field":"t","type":"quantitative"},"y":{"field":"v","type":"quantitative"},"color":{"field":"g","type":"nominal","scale":{"domain":["E","H"],"range":["#f5c542","#238b52"]},"legend":null}}},
   {"data":{"values":[{"t":0},{"t":1500}]},"mark":{"type":"rule","color":"#555","strokeWidth":1.2},"encoding":{"x":{"field":"t","type":"quantitative"}}},
   {"data":{"values":[{"s":500,"e":790},{"s":1000,"e":1480}]},"mark":{"type":"rule","color":"#bbb","strokeWidth":2},"encoding":{"x":{"field":"s","type":"quantitative"},"x2":{"field":"e"},"y":{"datum":-0.94,"type":"quantitative"}}}
  ]},
 {"width":66,"height":91,"data":{"values":[]},"mark":"point","title":{"text":"h","anchor":"start","frame":"group","fontSize":14,"fontWeight":"bold","offset":0,"dx":28,"dy":3}},
 {"width":91,"height":91,"data":{"name":"h1"},"transform":[{"fold":["E","H"],"as":["g","v"]}],
  "layer":[
   {"mark":{"type":"line","strokeWidth":5,"opacity":0.35,"interpolate":"monotone"},"encoding":{"x":{"field":"t","type":"quantitative","scale":{"domain":[0,2200],"nice":false,"zero":false},"axis":{"values":[0,1000,2000],"title":"time after stimulus onset (ms)","titleX":128,"offset":5,"labelPadding":8,"titlePadding":6,"labelExpr":"''+datum.value"}},"y":{"field":"v","type":"quantitative","scale":{"domain":[-1,1],"nice":false,"zero":false},"axis":{"values":[-1,1],"title":null,"labelExpr":"''+datum.value"}},"color":{"field":"g","type":"nominal","scale":{"domain":["E","H"],"range":["#f5c542","#238b52"]},"legend":null}}},
   {"mark":{"type":"line","strokeWidth":1.2,"interpolate":"monotone"},"encoding":{"x":{"field":"t","type":"quantitative"},"y":{"field":"v","type":"quantitative"},"color":{"field":"g","type":"nominal","scale":{"domain":["E","H"],"range":["#f5c542","#238b52"]},"legend":null}}},
   {"data":{"values":[{"t":2000}]},"mark":{"type":"rule","color":"#555","strokeWidth":1.2},"encoding":{"x":{"field":"t","type":"quantitative"}}},
   {"data":{"values":[{"s":1130,"e":1980}]},"mark":{"type":"rule","color":"#bbb","strokeWidth":2},"encoding":{"x":{"field":"s","type":"quantitative"},"x2":{"field":"e"},"y":{"datum":-0.93,"type":"quantitative"}}}
  ]},
 {"width":76,"height":91,"data":{"values":[]},"mark":"point"},
 {"width":94,"height":91,"data":{"name":"h2"},"transform":[{"fold":["E","H"],"as":["g","v"]}],
  "layer":[
   {"mark":{"type":"line","strokeWidth":5,"opacity":0.35,"interpolate":"monotone"},"encoding":{"x":{"field":"t","type":"quantitative","scale":{"domain":[0,1680],"nice":false,"zero":false},"axis":{"values":[0,750,1500],"title":null,"offset":5,"labelPadding":8,"labelExpr":"''+datum.value"}},"y":{"field":"v","type":"quantitative","scale":{"domain":[-0.8,1.3],"nice":false,"zero":false},"axis":{"values":[-0.8,1.3],"title":null,"labelExpr":"''+datum.value"}},"color":{"field":"g","type":"nominal","scale":{"domain":["E","H"],"range":["#f5c542","#238b52"]},"legend":null}}},
   {"mark":{"type":"line","strokeWidth":1.2,"interpolate":"monotone"},"encoding":{"x":{"field":"t","type":"quantitative"},"y":{"field":"v","type":"quantitative"},"color":{"field":"g","type":"nominal","scale":{"domain":["E","H"],"range":["#f5c542","#238b52"]},"legend":null}}},
   {"data":{"values":[{"t":1500}]},"mark":{"type":"rule","color":"#555","strokeWidth":1.2},"encoding":{"x":{"field":"t","type":"quantitative"}}}
  ]},

 {"width":1,"height":41,"data":{"values":[]},"mark":"point"},
 {"width":1,"height":41,"data":{"values":[]},"mark":"point"},
 {"width":1,"height":41,"data":{"values":[]},"mark":"point"},
 {"width":1,"height":41,"data":{"values":[]},"mark":"point"},
 {"width":1,"height":41,"data":{"values":[]},"mark":"point"},
 {"width":1,"height":41,"data":{"values":[]},"mark":"point"},
 {"width":1,"height":41,"data":{"values":[]},"mark":"point"},
 {"width":1,"height":41,"data":{"values":[]},"mark":"point"},

 {"width":45,"height":92,"data":{"values":[]},"mark":"point","title":{"text":"d","anchor":"start","frame":"group","fontSize":14,"fontWeight":"bold","offset":0,"dy":2}},
 {"width":92,"height":92,
  "layer":[
   {"data":{"name":"d1"},"mark":{"type":"point","shape":"circle","filled":false,"size":18,"strokeWidth":0.8,"color":"#111","opacity":1},"encoding":{"x":{"field":"x","type":"quantitative","scale":{"domain":[10,80],"nice":false,"zero":false},"axis":{"values":[10,80],"title":"small reward","titleX":117,"labelExpr":"''+datum.value"}},"y":{"field":"y","type":"quantitative","scale":{"domain":[10,80],"nice":false,"zero":false},"axis":{"values":[10,80],"title":"large reward","labelExpr":"''+datum.value"}}}},
   {"data":{"values":[{}]},"mark":{"type":"rule","color":"#111","strokeWidth":0.8},"encoding":{"x":{"datum":10,"type":"quantitative"},"y":{"datum":10,"type":"quantitative"},"x2":{"datum":80},"y2":{"datum":80}}},
   {"data":{"values":[{}]},"mark":{"type":"text","align":"left","fontSize":8.5},"encoding":{"x":{"datum":54,"type":"quantitative"},"y":{"datum":28,"type":"quantitative"},"text":{"value":"n = 213"}}},
   {"data":{"values":[{}]},"mark":{"type":"text","align":"left","fontSize":8.5},"encoding":{"x":{"datum":54,"type":"quantitative"},"y":{"datum":17,"type":"quantitative"},"text":{"value":"p < 10⁻²²"}}}
  ]},
 {"width":77,"height":92,"data":{"values":[]},"mark":"point","title":{"text":"psychophysical threshold (% signal)","frame":"group","dx":-6,"offset":0,"dy":-8}},
 {"width":92,"height":92,
  "layer":[
   {"data":{"name":"d2"},"mark":{"type":"point","shape":"circle","filled":false,"size":18,"strokeWidth":0.8,"color":"#111","opacity":1},"encoding":{"x":{"field":"x","type":"quantitative","scale":{"domain":[20,90],"nice":false,"zero":false},"axis":{"values":[20,90],"title":null,"labelExpr":"''+datum.value"}},"y":{"field":"y","type":"quantitative","scale":{"domain":[20,90],"nice":false,"zero":false},"axis":{"values":[20,90],"title":null,"labelExpr":"''+datum.value"}}}},
   {"data":{"values":[{}]},"mark":{"type":"rule","color":"#111","strokeWidth":0.8},"encoding":{"x":{"datum":20,"type":"quantitative"},"y":{"datum":20,"type":"quantitative"},"x2":{"datum":90},"y2":{"datum":90}}},
   {"data":{"values":[{}]},"mark":{"type":"text","align":"left","fontSize":8.5},"encoding":{"x":{"datum":64.4,"type":"quantitative"},"y":{"datum":38,"type":"quantitative"},"text":{"value":"n = 84"}}},
   {"data":{"values":[{}]},"mark":{"type":"text","align":"left","fontSize":8.5},"encoding":{"x":{"datum":64.4,"type":"quantitative"},"y":{"datum":27,"type":"quantitative"},"text":{"value":"p < 0.01"}}}
  ]},
 {"width":66,"height":92,"data":{"values":[]},"mark":"point","title":{"text":"e","anchor":"start","frame":"group","fontSize":14,"fontWeight":"bold","offset":0,"dx":28,"dy":0}},
 {"width":91,"height":92,
  "layer":[
   {"data":{"name":"e1"},"mark":{"type":"point","shape":"circle","filled":false,"size":18,"strokeWidth":0.8,"color":"#111","opacity":1},"encoding":{"x":{"field":"x","type":"quantitative","scale":{"domain":[-0.3,1],"nice":false,"zero":false},"axis":{"values":[-0.3,1],"title":"small reward","titleX":121,"labelExpr":"''+datum.value"}},"y":{"field":"y","type":"quantitative","scale":{"domain":[-0.3,1],"nice":false,"zero":false},"axis":{"values":[-0.3,1],"title":null,"labelExpr":"''+datum.value"}}}},
   {"data":{"values":[{}]},"mark":{"type":"rule","color":"#111","strokeWidth":0.8},"encoding":{"x":{"datum":-0.3,"type":"quantitative"},"y":{"datum":-0.3,"type":"quantitative"},"x2":{"datum":1},"y2":{"datum":1}}},
   {"data":{"values":[{}]},"mark":{"type":"text","align":"left","fontSize":8.5},"encoding":{"x":{"datum":0.66,"type":"quantitative"},"y":{"datum":0.03,"type":"quantitative"},"text":{"value":"n = 213"}}},
   {"data":{"values":[{}]},"mark":{"type":"text","align":"left","fontSize":8.5},"encoding":{"x":{"datum":0.66,"type":"quantitative"},"y":{"datum":-0.16,"type":"quantitative"},"text":{"value":"p < 10⁻³¹"}}}
  ]},
 {"width":76,"height":92,"data":{"values":[]},"mark":"point","title":{"text":"mean pupil size (z-score)","frame":"group","dx":-1,"offset":0,"dy":-8}},
 {"width":92,"height":92,
  "layer":[
   {"data":{"name":"e2"},"mark":{"type":"point","shape":"circle","filled":false,"size":18,"strokeWidth":0.8,"color":"#111","opacity":1},"encoding":{"x":{"field":"x","type":"quantitative","scale":{"domain":[0.07,0.9],"nice":false,"zero":false},"axis":{"values":[0.07,0.9],"title":null,"labelExpr":"''+datum.value"}},"y":{"field":"y","type":"quantitative","scale":{"domain":[0.07,0.9],"nice":false,"zero":false},"axis":{"values":[0.07,0.9],"title":null,"labelExpr":"''+datum.value"}}}},
   {"data":{"values":[{}]},"mark":{"type":"rule","color":"#111","strokeWidth":0.8},"encoding":{"x":{"datum":0.07,"type":"quantitative"},"y":{"datum":0.07,"type":"quantitative"},"x2":{"datum":0.9},"y2":{"datum":0.9}}},
   {"data":{"values":[{}]},"mark":{"type":"text","align":"left","fontSize":8.5},"encoding":{"x":{"datum":0.67,"type":"quantitative"},"y":{"datum":0.28,"type":"quantitative"},"text":{"value":"n = 84"}}},
   {"data":{"values":[{}]},"mark":{"type":"text","align":"left","fontSize":8.5},"encoding":{"x":{"datum":0.67,"type":"quantitative"},"y":{"datum":0.16,"type":"quantitative"},"text":{"value":"p < 10⁻¹⁹"}}}
  ]}
]
}
